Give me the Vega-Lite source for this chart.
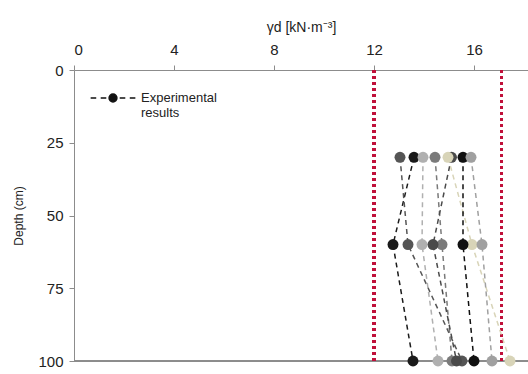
{
  "$schema": "https://vega.github.io/schema/vega-lite/v6.json",
  "width": 454,
  "height": 291,
  "autosize": "none",
  "padding": {"left": 74, "top": 70, "right": 0, "bottom": 13},
  "background": "white",
  "config": {
    "view": {"stroke": null},
    "font": "Liberation Sans",
    "axis": {"grid": false, "domainColor": "#8c8c8c", "tickColor": "#8c8c8c", "labelColor": "#222", "titleColor": "#222", "labelFont": "Liberation Sans", "titleFont": "Liberation Sans"}
  },
  "data": {"values": [
    {"series": "A", "depth": 30, "gd": 13.6},
    {"series": "A", "depth": 60, "gd": 12.76},
    {"series": "A", "depth": 100, "gd": 13.56},
    {"series": "B", "depth": 30, "gd": 13.04},
    {"series": "B", "depth": 60, "gd": 13.36},
    {"series": "B", "depth": 100, "gd": 15.52},
    {"series": "C", "depth": 30, "gd": 13.96},
    {"series": "C", "depth": 60, "gd": 13.92},
    {"series": "C", "depth": 100, "gd": 14.56},
    {"series": "D", "depth": 30, "gd": 14.44},
    {"series": "D", "depth": 60, "gd": 14.72},
    {"series": "D", "depth": 100, "gd": 15.12},
    {"series": "E", "depth": 30, "gd": 15.1},
    {"series": "E", "depth": 60, "gd": 14.36},
    {"series": "E", "depth": 100, "gd": 15.3},
    {"series": "F", "depth": 30, "gd": 14.96},
    {"series": "F", "depth": 60, "gd": 15.92},
    {"series": "F", "depth": 100, "gd": 17.44},
    {"series": "G", "depth": 30, "gd": 15.56},
    {"series": "G", "depth": 60, "gd": 15.56},
    {"series": "G", "depth": 100, "gd": 16.0},
    {"series": "H", "depth": 30, "gd": 15.88},
    {"series": "H", "depth": 60, "gd": 16.32},
    {"series": "H", "depth": 100, "gd": 16.72}
  ]},
  "layer": [
    {
      "mark": {"type": "rule", "color": "#8c8c8c", "strokeWidth": 1},
      "encoding": {"y": {"datum": 100, "type": "quantitative", "scale": {"domain": [0, 100], "reverse": true, "nice": false}}}
    },
    {
      "mark": {"type": "rule", "color": "#c0103a", "strokeWidth": 3, "strokeDash": [3, 3]},
      "encoding": {"x": {"datum": 12, "type": "quantitative"}}
    },
    {
      "mark": {"type": "rule", "color": "#c0103a", "strokeWidth": 3, "strokeDash": [3, 3]},
      "encoding": {"x": {"datum": 17.1, "type": "quantitative"}}
    },
    {
      "mark": {"type": "line", "strokeWidth": 1.5, "strokeDash": [5, 4]},
      "encoding": {
        "x": {"field": "gd", "type": "quantitative"},
        "y": {"field": "depth", "type": "quantitative"},
        "detail": {"field": "series"},
        "order": {"field": "depth"},
        "color": {"field": "series", "type": "nominal", "legend": null,
          "scale": {"domain": ["A","B","C","D","E","F","G","H"], "range": ["#1a1a1a", "#555555", "#b0b0b0", "#7a7a7a", "#4a4a4a", "#d8d4b8", "#111111", "#a0a0a0"]}}
      }
    },
    {
      "mark": {"type": "point", "filled": true, "size": 120, "opacity": 1},
      "encoding": {
        "x": {"field": "gd", "type": "quantitative", "scale": {"domain": [0, 18.16], "nice": false, "zero": false},
          "axis": {"orient": "top", "values": [0, 4, 8, 12, 16], "title": "γd [kN·m⁻³]", "titleFontSize": 14, "titleFontWeight": "normal", "labelFontSize": 15, "titlePadding": 8, "tickSize": 5, "labelPadding": 8}},
        "y": {"field": "depth", "type": "quantitative", "scale": {"domain": [0, 100], "reverse": true, "nice": false},
          "axis": {"values": [0, 25, 50, 75, 100], "title": "Depth (cm)", "titleFontSize": 12, "titleFontWeight": "normal", "labelFontSize": 15, "tickSize": 5, "labelPadding": 6, "titlePadding": 12}},
        "color": {"field": "series", "type": "nominal", "legend": null},
        "opacity": {"datum": "Experimental results", "scale": {"range": [1]},
          "legend": {"title": null, "orient": "none", "legendX": 27, "legendY": 16, "padding": 0,
            "symbolType": "M-2,0H-1.5M-1.1,0H-0.6M0.6,0H1.1M1.5,0H2M0.35,0A0.35,0.35 0 1 1 -0.35,0A0.35,0.35 0 1 1 0.35,0Z",
            "symbolSize": 500, "symbolFillColor": "#111", "symbolStrokeColor": "#111", "symbolStrokeWidth": 1.5,
            "labelFontSize": 13, "labelColor": "#222", "labelExpr": "['Experimental', 'results']", "labelOffset": 16}}
      }
    }
  ]
}
